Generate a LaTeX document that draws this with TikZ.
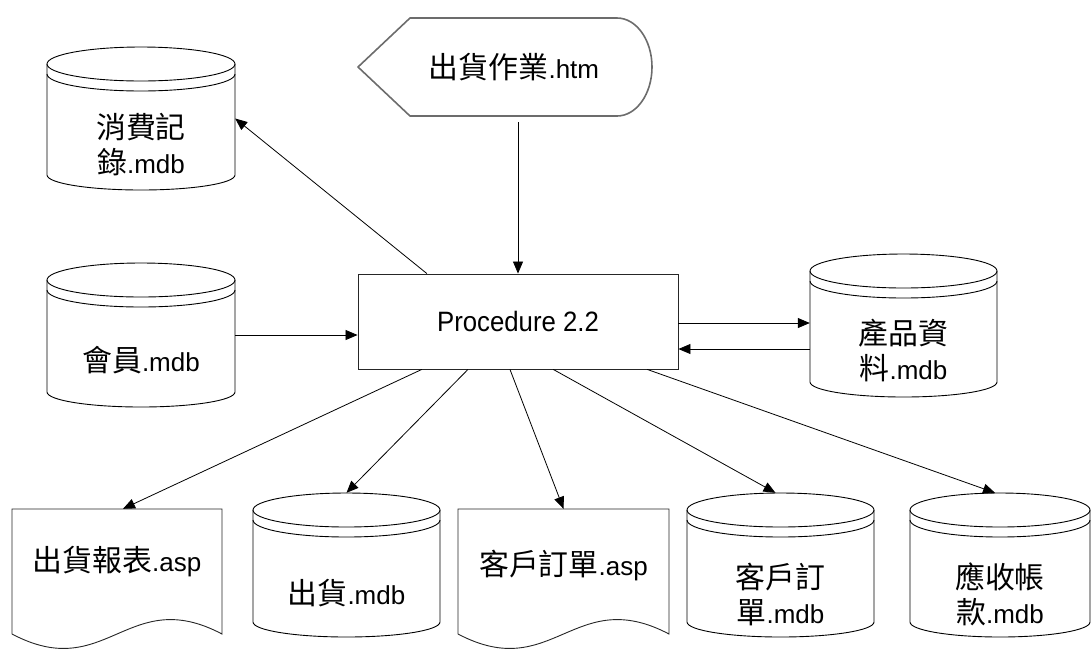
\documentclass[tikz,border=0pt]{standalone}
\usepackage{fontspec}
\setmainfont{Liberation Sans}
\newfontfamily\cjk{Noto Sans CJK TC}[Scale=1.15]
\newfontfamily\narrowfont{Liberation Sans}[FakeStretch=0.92]
\usetikzlibrary{calc,arrows.meta}
\newcommand\zh[1]{{\cjk #1}}
\tikzset{
  shapeline/.style={draw=black,line width=0.9pt},
  conn/.style={draw=black,line width=0.8pt,-{Triangle[length=12pt,width=10pt]}},
  lbl/.style={font=\fontsize{26}{35}\selectfont, align=center, inner sep=0pt},
  holder/.style={draw=none,inner sep=0pt},
}
% cylinder: name, cx, top, bottom, rx, text dy, text
\newcommand\dbcyl[7]{%
  \node[holder,minimum width=2*#5pt,minimum height={(#4-#3)*1pt}] (#1) at (#2,{(#3+#4)/2}) {};
  \draw[shapeline] (#2,{#3+17}) ellipse [x radius=#5pt, y radius=17pt];
  \draw[shapeline] ({#2-#5},{#3+17}) -- ({#2-#5},{#4-15})
     arc[start angle=180,end angle=360,x radius=#5pt,y radius=15pt] -- ({#2+#5},{#3+17});
  \draw[shapeline] ({#2-#5},{#3+27}) arc[start angle=180,end angle=360,x radius=#5pt,y radius=17pt];
  \node[lbl] (#1-t) at (#2,{(#3+#4)/2+#6}) {#7};
}
% document: name, x0, x1, top, yb, text dy, text
\newcommand\docshape[7]{%
  \node[holder,minimum width={(#3-#2)*1pt},minimum height={(#5-#4)*1pt}] (#1) at ({(#2+#3)/2},{(#4+#5)/2}) {};
  \draw[shapeline,draw=gray!30!black] (#2,#5) -- (#2,#4) -- (#3,#4) -- (#3,#5)
     .. controls ({#3-0.45*(#3-#2)},{#5-50}) and ({#2+0.45*(#3-#2)},{#5+50}) .. (#2,#5);
  \node[lbl] (#1-t) at ({(#2+#3)/2},{(#4+#5)/2+#6}) {#7};
}
\begin{document}
\begin{tikzpicture}[x=1pt,y=-1pt]
\useasboundingbox (0,0) rectangle (1091,649);

% display shape
\node[holder,minimum width=294pt,minimum height=98pt] (htm) at (505,67) {};
\draw[draw=gray!85!black,line width=1.6pt,line join=round] (358,67) -- (410,18) -- (617,18)
   arc[start angle=90,end angle=-90,x radius=35pt,y radius=49pt] -- (410,116) -- cycle;
\node[lbl] (htm-t) at (514,67) {\zh{出貨作業}.htm};

% process box
\node[draw=gray!30!black,line width=0.9pt,minimum width=320pt,minimum height=95pt,inner sep=0pt,
      font=\narrowfont\fontsize{28}{34}\selectfont] (proc) at (518,321.5) {Procedure 2.2};

% cylinders
\dbcyl{xf}{141}{47}{190}{94}{26}{\zh{消費記}\\\zh{錄}.mdb}
\dbcyl{mem}{141}{263}{407}{94}{25}{\zh{會員}.mdb}
\dbcyl{prod}{903.5}{254}{397}{93.5}{24.5}{\zh{產品資}\\\zh{料}.mdb}
\dbcyl{ship}{346.5}{493}{637}{93.5}{28}{\zh{出貨}.mdb}
\dbcyl{ordm}{780.5}{493}{637}{93.5}{29}{\zh{客戶訂}\\\zh{單}.mdb}
\dbcyl{ar}{1000}{493}{637}{90}{29}{\zh{應收帳}\\\zh{款}.mdb}

% documents
\docshape{rep}{12}{222}{509}{634}{-9.5}{\zh{出貨報表}.asp}
\docshape{ordasp}{458}{669}{509}{634}{-6.5}{\zh{客戶訂單}.asp}

% connectors
\draw[conn] ($(proc.north |- htm.south)+(0,6)$) -- (proc.north);
\draw[conn] ($(proc.north west)!0.216!(proc.north east)$) -- (xf.east);
\draw[conn] (mem.east) -- (proc.west |- mem.east);
\coordinate (pa) at ($(proc.east)+(0,1.5)$);
\draw[conn] (pa) -- (pa -| prod.west);
\coordinate (pb) at ($(prod.west)+(0,23.5)$);
\draw[conn] (pb) -- (pb -| proc.east);
\draw[conn] ($(proc.south west)!0.2!(proc.south east)$) -- ($(rep.north)+(6,0)$);
\draw[conn] ($(proc.south west)!0.344!(proc.south east)$) -- (ship.north);
\draw[conn] ($(proc.south west)!0.475!(proc.south east)$) -- (ordasp.north);
\draw[conn] ($(proc.south west)!0.61!(proc.south east)$) -- ($(ordm.north)+(-5,0)$);
\draw[conn] ($(proc.south west)!0.903!(proc.south east)$) -- ($(ar.north)+(-5,0)$);
\end{tikzpicture}
\end{document}
